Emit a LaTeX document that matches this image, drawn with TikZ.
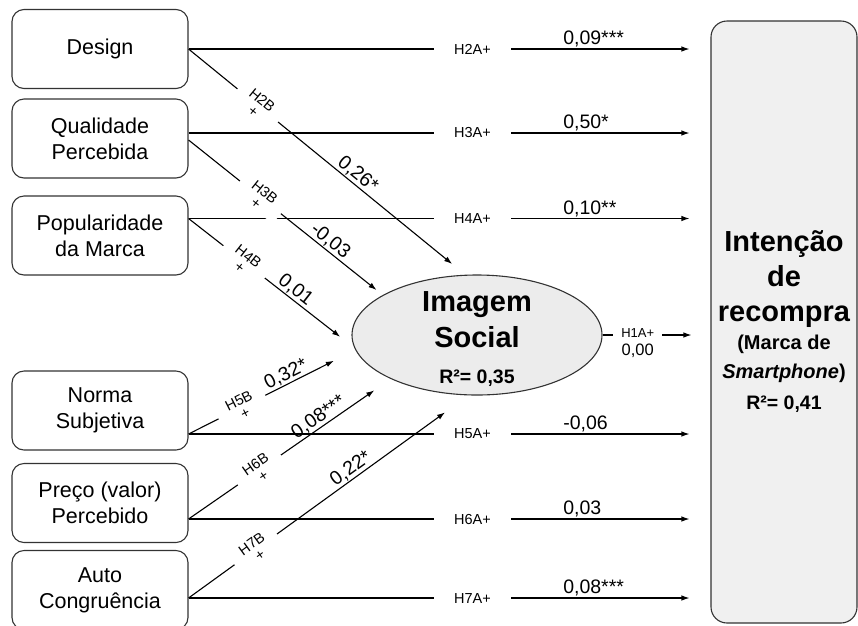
\documentclass[tikz,border=0pt]{standalone}
\usepackage{fontspec}
\setmainfont{Liberation Sans}
\usetikzlibrary{positioning, arrows.meta, shapes.geometric}

\begin{document}
\begin{tikzpicture}[x=1pt, y=-1pt, on grid, line width=1.1pt, >={Latex[length=8pt,width=5.5pt]},
    var/.style={draw=black!80, rounded corners=12pt, minimum width=176pt, minimum height=79pt,
      align=center, font=\fontsize{21.5}{26}\selectfont},
    hyp/.style={fill=white, font=\fontsize{14.5}{15}\selectfont, inner xsep=20pt, inner ysep=2pt},
    hypd/.style={sloped, fill=white, align=center, font=\fontsize{14.5}{14}\selectfont,
      inner xsep=12pt, inner ysep=1pt},
    coef/.style={font=\fontsize{19.5}{20}\selectfont, inner sep=1pt}]
  \useasboundingbox (0,0) rectangle (858,625);

  % antecedentes
  \node[var] (des) at (100,49) {Design};
  \node[var] (qual) [below=89.5pt of des] {Qualidade\\Percebida};
  \node[var] (pop) [below=97pt of qual] {Popularidade\\da Marca};
  \node[var] (norma) [below=175pt of pop] {Norma\\Subjetiva};
  \node[var] (preco) [below=92.5pt of norma] {Preço (valor)\\Percebido};
  \node[var] (auto) [below=87pt of preco] {Auto\\Congruência};

  % mediadora e dependente
  \node[draw=black!80, fill=gray!15, ellipse, minimum width=250pt, minimum height=120pt,
    inner sep=0pt] (img) at (477,335) {};
  \node[font=\bfseries\fontsize{29}{36}\selectfont, align=center] (imgtxt) at ([yshift=-4pt]img.center)
    {Imagem\\Social\\{\fontsize{19.5}{36}\selectfont R²= 0,35}};
  \node[draw=black!80, fill=gray!12, rounded corners=16pt, minimum width=146pt, minimum height=602pt,
    align=center, font=\bfseries\fontsize{29}{35}\selectfont] (int) at (784,322)
    {Intenção\\de\\recompra\\[-7pt]{\fontsize{20}{35}\selectfont (Marca de}\\[-6pt]
     {\fontsize{20}{35}\selectfont\textit{Smartphone})}\\[-4pt]{\fontsize{19.5}{35}\selectfont R²= 0,41}};

  % pontos de saida
  \coordinate (des0) at (des.east);
  \coordinate (qual0) at ([yshift=5.5pt]qual.east);
  \coordinate (qual1) at ([yshift=-1.5pt]qual.east);
  \coordinate (pop0) at ([yshift=17pt]pop.east);
  \coordinate (norma0) at ([yshift=-23.5pt]norma.east);
  \coordinate (preco0) at ([yshift=-16pt]preco.east);
  \coordinate (auto0) at ([yshift=-8pt]auto.east);

  % efeitos diretos
  \draw[->, shorten >=21pt] (des0) -- node[hyp, pos=.544] {H2A+}
    node[coef, pos=.715, anchor=south west] {0,09***} (des0 -| int.west);
  \draw[->, shorten >=21pt] (qual0) -- node[hyp, pos=.544] {H3A+}
    node[coef, pos=.715, anchor=south west] {0,50*} (qual0 -| int.west);
  \draw[->, shorten >=21pt] (pop0) -- node[hyp, pos=.544] {H4A+}
    node[coef, pos=.715, anchor=south west] {0,10**} (pop0 -| int.west);
  \draw[->, shorten >=21pt] (norma0) -- node[hyp, pos=.544] {H5A+}
    node[coef, pos=.715, anchor=south west] {-0,06} (norma0 -| int.west);
  \draw[->, shorten >=21pt] (preco0) -- node[hyp, pos=.544] {H6A+}
    node[coef, pos=.715, anchor=south west] {0,03} (preco0 -| int.west);
  \draw[->, shorten >=21pt] (auto0) -- node[hyp, pos=.544] {H7A+}
    node[coef, pos=.715, anchor=south west] {0,08***} (auto0 -| int.west);

  % efeitos sobre a imagem social
  \draw[->, shorten >=17pt] (des0) -- node[hypd, pos=.25] {H2B\\+}
    node[coef, sloped, above, pos=.59] {0,26*} (img.101);
  \draw[->, shorten >=8pt] (qual1) -- node[hypd, pos=.37] {H3B\\+}
    node[coef, sloped, above, pos=.70] {-0,03} (img.157);
  \draw[->, shorten >=18pt] (pop0) -- node[hypd, pos=.335] {H4B\\+}
    node[coef, sloped, above, pos=.61] {0,01} (img.186);
  \draw[->, shorten >=24pt] (norma0) -- node[hypd, pos=.32] {H5B\\+}
    node[coef, sloped, above, pos=.61] {0,32*} (img.187);
  \draw[->, shorten >=20pt] (preco0) -- node[hypd, pos=.35] {H6B\\+}
    node[coef, sloped, above, pos=.67] {0,08***} (img.207);
  \draw[->, shorten >=29pt] (auto0) -- node[hypd, pos=.24] {H7B\\+}
    node[coef, sloped, above, pos=.60] {0,22*} (img.262);

  \draw[->, shorten >=19pt] (img.east) -- node[pos=.326, yshift=-8.5pt, fill=white, align=center,
    inner xsep=8pt, inner ysep=0pt, font=\fontsize{13}{18}\selectfont]
    {H1A+\\{\fontsize{16.5}{18}\selectfont 0,00}} (img.east -| int.west);
\end{tikzpicture}
\end{document}
